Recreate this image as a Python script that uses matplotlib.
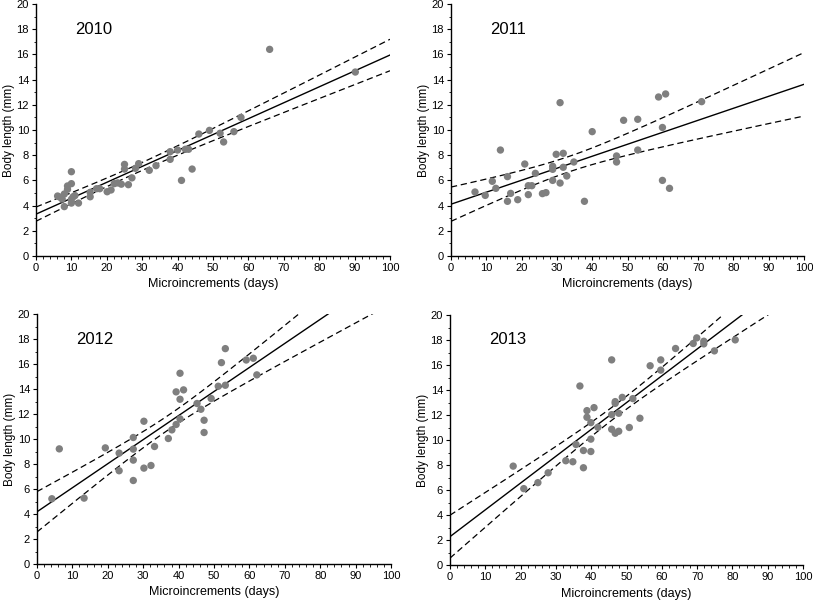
import numpy as np
import matplotlib
matplotlib.use("Agg")
import matplotlib.pyplot as plt
from matplotlib.ticker import MultipleLocator

plt.rcParams['font.family'] = ['Liberation Sans', 'DejaVu Sans']

years = ["2010", "2011", "2012", "2013"]

x2010 = [6.1, 6.8, 7.4, 8.0, 8.0, 8.9, 8.9, 10, 10, 10, 10, 10.5, 11, 12, 15.3, 15.3,
         17.1, 18, 20.1, 21.2, 22.1, 23.1, 24.1, 25, 25, 26.1, 27.1, 28.1, 29, 32, 33.9,
         37.9, 37.9, 40, 41.1, 42.2, 43.1, 44.1, 46, 49, 52, 53, 55.9, 57.9, 66, 90.2]
y2010 = [4.76, 4.66, 4.52, 4.92, 3.92, 5.56, 5.29, 6.69, 5.74, 4.5, 4.2, 4.7, 4.8, 4.2, 4.7, 5.05,
         5.34, 5.34, 5.1, 5.24, 5.74, 5.8, 5.7, 7.27, 6.9, 5.66, 6.2, 6.96, 7.33, 6.8, 7.17,
         7.67, 8.28, 8.41, 6.0, 8.47, 8.47, 6.9, 9.68, 9.97, 9.74, 9.05, 9.87, 11.0, 16.4, 14.6]

x2011 = [6.8, 9.7, 11.7, 12.7, 14, 16, 16, 16.9, 18.9, 20.9, 21.9, 21.9, 22.9, 23.9, 25.9,
         26.9, 28.8, 28.8, 28.8, 29.8, 30.9, 30.9, 31.8, 31.8, 32.8, 34.8, 37.8, 40, 46.9,
         46.9, 48.9, 52.9, 52.9, 58.8, 60.8, 59.9, 59.9, 61.9, 71]
y2011 = [5.08, 4.81, 5.93, 5.37, 8.41, 6.3, 4.34, 4.97, 4.47, 7.3, 4.87, 5.58, 5.58, 6.56, 4.95,
         5.03, 7.12, 6.88, 6.0, 8.07, 12.17, 5.79, 8.15, 7.04, 6.35, 7.46, 4.34, 9.87, 7.94,
         7.46, 10.77, 10.85, 8.41, 12.62, 12.86, 10.2, 6.0, 5.37, 12.25]

x2012 = [4.2, 6.3, 13.3, 19.3, 23.2, 23.2, 27.2, 27.2, 27.2, 27.2, 30.2, 30.2, 32.2, 33.2,
         37.1, 38.1, 39.3, 39.3, 40.4, 40.4, 40.4, 41.4, 45.2, 46.3, 47.2, 47.2, 49.2, 51.2,
         52.1, 53.2, 53.2, 59.1, 61.1, 62.1]
y2012 = [5.22, 9.21, 5.27, 9.29, 8.87, 7.46, 10.12, 9.19, 8.31, 6.68, 11.42, 7.67, 7.88, 9.4,
         10.04, 10.73, 11.16, 13.77, 15.26, 13.18, 11.61, 13.93, 12.84, 12.38, 11.5, 10.52, 13.24, 14.22,
         16.11, 17.23, 14.3, 16.32, 16.46, 15.13]

x2013 = [17.9, 20.9, 24.9, 27.8, 32.8, 34.8, 35.7, 36.8, 37.8, 37.8, 38.8, 38.8, 39.9, 39.9,
         39.9, 40.8, 41.9, 45.8, 45.8, 45.8, 46.8, 46.8, 46.8, 47.8, 47.8, 48.8, 50.8, 51.8,
         53.8, 56.7, 59.7, 59.7, 63.9, 68.9, 69.9, 71.9, 71.9, 74.9, 80.8]
y2013 = [7.91, 6.11, 6.59, 7.38, 8.34, 8.26, 9.64, 14.32, 9.16, 7.78, 12.35, 11.82, 11.39, 10.07,
         9.08, 12.59, 11.02, 16.41, 12.03, 10.86, 13.07, 12.93, 10.54, 12.14, 10.7, 13.41, 11.0, 13.31,
         11.74, 15.94, 16.41, 15.59, 17.32, 17.72, 18.17, 17.9, 17.69, 17.13, 18.01]

xs = [x2010, x2011, x2012, x2013]
ys = [y2010, y2011, y2012, y2013]

fig = plt.figure(figsize=(8.13, 6.05), dpi=100)
W, H = 813, 605
boxes = [(36, 4, 390, 256), (451, 4, 804, 256), (37, 314, 391, 564), (450, 315, 803, 565)]

T95 = 2.0  # approx t critical value

for yr, xd, yd, (l, t, r, b) in zip(years, xs, ys, boxes):
    ax = fig.add_axes([l / W, 1 - b / H, (r - l) / W, (b - t) / H])
    xd = np.array(xd); yd = np.array(yd)
    n = len(xd)
    slope, icpt = np.polyfit(xd, yd, 1)
    resid = yd - (icpt + slope * xd)
    s = np.sqrt(np.sum(resid ** 2) / (n - 2))
    xm = xd.mean(); sxx = np.sum((xd - xm) ** 2)
    xg = np.linspace(0, 100, 400)
    yh = icpt + slope * xg
    hw = T95 * s * np.sqrt(1 / n + (xg - xm) ** 2 / sxx)
    ax.scatter(xd, yd, s=28, color='#7f7f7f', edgecolors='none', zorder=3)
    ax.plot(xg, yh, color='black', lw=1.0, zorder=2)
    ax.plot(xg, yh + hw, color='black', lw=0.9, ls=(0, (5, 3)), zorder=2)
    ax.plot(xg, yh - hw, color='black', lw=0.9, ls=(0, (5, 3)), zorder=2)
    ax.set_xlim(0, 100)
    ax.set_ylim(0, 20)
    ax.xaxis.set_major_locator(MultipleLocator(10))
    ax.xaxis.set_minor_locator(MultipleLocator(2))
    ax.yaxis.set_major_locator(MultipleLocator(2))
    ax.yaxis.set_minor_locator(MultipleLocator(1))
    for sp in ['top', 'right']:
        ax.spines[sp].set_visible(False)
    for sp in ['left', 'bottom']:
        ax.spines[sp].set_linewidth(1.0)
    ax.tick_params(which='major', direction='out', length=3, width=0.8, labelsize=8, pad=2)
    ax.tick_params(which='minor', direction='out', length=1.8, width=0.6)
    ax.set_xlabel("Microincrements (days)", fontsize=9, labelpad=4)
    ax.set_ylabel("Body length (mm)", fontsize=8.5, labelpad=1)
    ax.text(11, 18.0, yr, fontsize=12, va='center', ha='left')

fig.savefig("out.png", dpi=100)
